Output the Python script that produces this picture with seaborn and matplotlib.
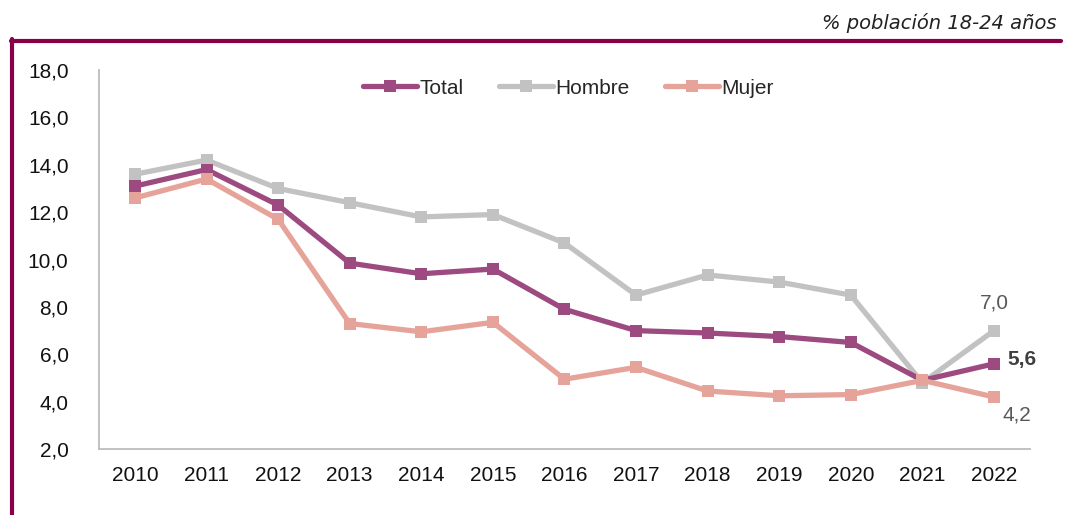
import matplotlib
matplotlib.use("Agg")
import matplotlib.pyplot as plt
import seaborn as sns
import pandas as pd
from matplotlib.lines import Line2D

# data
years = [2010, 2011, 2012, 2013, 2014, 2015, 2016, 2017, 2018, 2019, 2020, 2021, 2022]
total = [13.1, 13.8, 12.3, 9.85, 9.4, 9.6, 7.9, 7.0, 6.9, 6.75, 6.5, 4.9, 5.6]
hombre = [13.6, 14.2, 13.0, 12.4, 11.8, 11.9, 10.7, 8.5, 9.35, 9.05, 8.5, 4.8, 7.0]
mujer = [12.6, 13.4, 11.7, 7.3, 6.95, 7.35, 4.95, 5.45, 4.45, 4.25, 4.3, 4.9, 4.2]
series_names = ["Total", "Hombre", "Mujer"]
y_ticks = [2, 4, 6, 8, 10, 12, 14, 16, 18]

colors = {"Total": "#9C4A80", "Hombre": "#C2C2C2", "Mujer": "#E6A39A"}
border = "#8A0046"

df = pd.DataFrame({
    "year": [str(y) for y in years] * 3,
    "value": total + hombre + mujer,
    "serie": [s for s in series_names for _ in years],
})

sns.set_style("white")
plt.rcParams["font.family"] = ["Liberation Sans", "DejaVu Sans"]

fig = plt.figure(figsize=(10.66, 5.15), dpi=100)
ax = fig.add_axes([0.093, 0.128, 0.873, 0.736])

# grey first, then total, pink on top (as in the reference)
order = ["Hombre", "Total", "Mujer"]
for name in order:
    sub = df[df["serie"] == name]
    sns.lineplot(data=sub, x="year", y="value", ax=ax, color=colors[name],
                 marker="s", markersize=9, markeredgewidth=0, linewidth=3.8,
                 sort=False)

ax.set_xlim(-0.5, len(years) - 0.5)
ax.set_ylim(2, 18)
ax.set_yticks(y_ticks)
ax.set_yticklabels([f"{t:.1f}".replace(".", ",") for t in y_ticks])
ax.set_xlabel("")
ax.set_ylabel("")
ax.tick_params(axis="both", labelsize=15, length=0, colors="#111111")
ax.tick_params(axis="x", pad=12)
ax.tick_params(axis="y", pad=22)
for side in ["top", "right"]:
    ax.spines[side].set_visible(False)
for side in ["left", "bottom"]:
    ax.spines[side].set_color("#BDBDBD")
    ax.spines[side].set_linewidth(1.3)

# end labels
last = len(years) - 1
ax.annotate("7,0", (last, hombre[-1]), xytext=(0, 13),
            textcoords="offset points", ha="center", va="bottom",
            fontsize=15, color="#595959")
ax.annotate("5,6", (last, total[-1]), xytext=(10, 3),
            textcoords="offset points", ha="left", va="center",
            fontsize=15, color="#404040", fontweight="bold")
ax.annotate("4,2", (last, mujer[-1]), xytext=(6, -6),
            textcoords="offset points", ha="left", va="top",
            fontsize=15, color="#595959")

handles = [Line2D([], [], color=colors[n], linewidth=3.8, marker="s",
                  markersize=9, markeredgewidth=0) for n in series_names]
fig.legend(handles, series_names, loc="center", bbox_to_anchor=(0.533, 0.829),
           ncol=3, frameon=False, fontsize=15, handlelength=2.6,
           handletextpad=0.1, columnspacing=1.7)

# frame lines and subtitle
fig.add_artist(Line2D([0.010, 0.995], [0.921, 0.921], color=border, linewidth=3,
                      transform=fig.transFigure))
fig.add_artist(Line2D([0.0115, 0.0115], [0.924, 0.0], color=border, linewidth=3,
                      transform=fig.transFigure))
fig.text(0.991, 0.955, "% población 18-24 años", ha="right", va="center",
         fontsize=14, style="italic", color="#222222", family="DejaVu Sans")

fig.savefig("out.png", dpi=100)
